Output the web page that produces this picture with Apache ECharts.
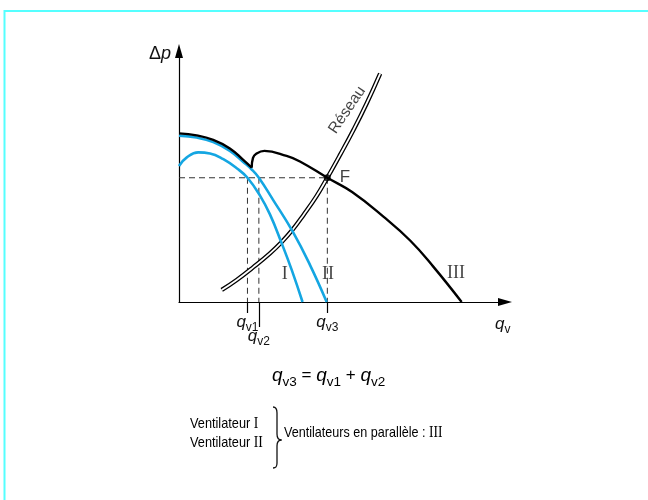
<!DOCTYPE html>
<html>
<head>
<meta charset="utf-8">
<script src="https://cdn.jsdelivr.net/npm/echarts@6/dist/echarts.min.js"></script>
<style>
  html, body { margin: 0; padding: 0; background: #fff; }
  #chart { width: 648px; height: 500px; }
</style>
</head>
<body>
<div id="chart"></div>
<script>
// Fan characteristics Δp(q_v) in arbitrary units (q_v 0..100, Δp 0..100)
const fanI = [[0, 54.2], [2.4, 57.6], [5.9, 59.6], [9.5, 59.2], [13.6, 56.9], [17.7, 53.3],
  [21, 49.5], [24.85, 42.4], [27.9, 34.9], [31.5, 23.4], [34.6, 12.7], [37.9, 0]];
const fanII = [[0, 66.3], [5.4, 65.5], [10.5, 63.7], [15.6, 60.2], [19.7, 55.8], [22.3, 52.8],
  [24.5, 49.5], [28.9, 40.6], [34.9, 28.0], [40.2, 14.7], [45.3, 0]];
// Parallel operation (III): branch where only fan II delivers, then the combined branch
const parallelSingle = [[0, 67.2], [5.4, 66.4], [10.5, 64.6], [15.6, 61.2], [19.7, 56.6], [22.3, 53.5]];
const parallelCombined = [[22.3, 53.5], [22.7, 57.4], [23.6, 59.0], [26.2, 60.2], [33.0, 58.2],
  [37.1, 56.0], [45.5, 49.5], [53.1, 43.8], [62.7, 34.0], [70.9, 24.5], [78.0, 14.1], [86.7, 0]];
// System resistance curve ("Réseau")
const network = [[13.1, 4.8], [17.7, 8.8], [22.8, 13.9], [27.9, 19.4], [31.5, 23.9], [34.9, 28.9],
  [38.1, 34.5], [42.2, 42.2], [45.5, 49.5], [49.4, 58.6], [53.5, 68.5], [57.6, 79.2], [61.7, 91.0]];
// Operating point F and flow rates
const qv1 = 21, qv2 = 24.5, qv3 = 45.5, dpF = 49.5;
const curveLabels = [
  { name: 'I', value: [32.4, 11.2] },
  { name: 'II', value: [45.7, 11.2] },
  { name: 'III', value: [85.0, 11.6] }
];
const networkLabel = [{ name: 'Réseau', value: [51.6, 76.5] }];

const SANS = "'Liberation Sans', Arial, sans-serif";
const SERIF = "'Liberation Serif', 'Times New Roman', serif";
const BLUE = '#14a6e2';
const INK = '#111';
const DASH = { color: '#333', width: 1, type: [6, 4] };

const qRich = {
  q: { fontFamily: SANS, fontStyle: 'italic', fontSize: 17, lineHeight: 18, verticalAlign: 'top', color: INK },
  s: { fontFamily: SANS, fontSize: 12, lineHeight: 12, verticalAlign: 'top', padding: [8, 0, 0, 0], color: INK },
  t: { fontFamily: SANS, fontSize: 15, lineHeight: 18, verticalAlign: 'top', padding: [1, 0, 0, 0], color: INK }
};
const formulaRich = {
  q: { fontFamily: SANS, fontStyle: 'italic', fontSize: 19, lineHeight: 20, verticalAlign: 'top', color: INK },
  s: { fontFamily: SANS, fontSize: 13.5, lineHeight: 13, verticalAlign: 'top', padding: [9, 0, 0, 0], color: INK },
  t: { fontFamily: SANS, fontSize: 17, lineHeight: 20, verticalAlign: 'top', padding: [1, 0, 0, 0], color: INK }
};
const textRich = {
  a: { fontFamily: SANS, fontSize: 15, lineHeight: 19, color: INK },
  b: { fontFamily: SERIF, fontSize: 16, lineHeight: 19, color: INK }
};
const subLabel = v => v === qv1 ? '{q|q}{s|v1}' : v === qv2 ? '{q|q}{s|v2}' : '{q|q}{s|v3}';

function dashed(data) {
  return { type: 'line', data, symbol: 'none', silent: true, lineStyle: DASH, z: 1 };
}
function curve(data, color, width, z) {
  return { type: 'line', data, smooth: 0.45, symbol: 'none', silent: true, lineStyle: { color, width }, z };
}

// Brace "}" built from lines and cubic curves
const brace = [
  { type: 'bezierCurve', shape: { x1: 273, y1: 407, cpx1: 276, cpy1: 407, cpx2: 277, cpy2: 409, x2: 277, y2: 413 } },
  { type: 'line', shape: { x1: 277, y1: 413, x2: 277, y2: 434 } },
  { type: 'bezierCurve', shape: { x1: 277, y1: 434, cpx1: 277, cpy1: 438, cpx2: 278, cpy2: 440, x2: 281.5, y2: 440 } },
  { type: 'bezierCurve', shape: { x1: 281.5, y1: 440, cpx1: 278, cpy1: 440, cpx2: 277, cpy2: 442, x2: 277, y2: 446 } },
  { type: 'line', shape: { x1: 277, y1: 446, x2: 277, y2: 463 } },
  { type: 'bezierCurve', shape: { x1: 277, y1: 463, cpx1: 277, cpy1: 467, cpx2: 276, cpy2: 468, x2: 273, y2: 468 } }
].map(e => Object.assign(e, { silent: true, style: { fill: 'none', stroke: INK, lineWidth: 1.3 } }));

const chart = echarts.init(document.getElementById('chart'), null, { renderer: 'canvas' });
chart.setOption({
  animation: false,
  backgroundColor: '#fff',
  grid: { left: 179, right: 143, top: 51, bottom: 198 },
  xAxis: [{
    type: 'value', min: 0, max: 100, position: 'bottom',
    axisLine: { show: true, onZero: false, lineStyle: { color: '#000', width: 1.2 }, symbol: ['none', 'triangle'], symbolSize: [8, 14] },
    splitLine: { show: false },
    axisTick: { show: true, customValues: [qv1, qv3], length: 11, lineStyle: { color: '#000', width: 1.2 } },
    axisLabel: { show: true, customValues: [qv1, qv3], margin: 12, formatter: subLabel, rich: qRich },
    name: '{q|q}{s|v}', nameLocation: 'end', nameGap: -10,
    nameTextStyle: { align: 'left', verticalAlign: 'top', padding: [14, 0, 0, 0], rich: qRich }
  }, {
    type: 'value', min: 0, max: 100, position: 'bottom',
    axisLine: { show: false },
    splitLine: { show: false },
    axisTick: { show: true, customValues: [qv2], length: 25, lineStyle: { color: '#000', width: 1.2 } },
    axisLabel: { show: true, customValues: [qv2], margin: 26, formatter: subLabel, rich: qRich }
  }],
  yAxis: {
    type: 'value', min: 0, max: 100,
    axisLine: { show: true, onZero: false, lineStyle: { color: '#000', width: 1.2 }, symbol: ['none', 'triangle'], symbolSize: [8, 14] },
    splitLine: { show: false }, axisTick: { show: false }, axisLabel: { show: false },
    name: '{d|Δ}{p|p}', nameLocation: 'end', nameGap: -3,
    nameTextStyle: {
      align: 'right', verticalAlign: 'middle', padding: [0, 8, 0, 0],
      rich: {
        d: { fontFamily: SANS, fontSize: 18, color: INK },
        p: { fontFamily: SANS, fontSize: 18, fontStyle: 'italic', color: INK }
      }
    }
  },
  series: [
    dashed([[0, dpF], [qv3, dpF]]),
    dashed([[qv1, dpF], [qv1, 0]]),
    dashed([[qv2, dpF], [qv2, 0]]),
    dashed([[qv3, dpF], [qv3, 0]]),
    curve(network, '#000', 4.4, 2),
    curve(network, '#fff', 1.8, 2),
    curve(fanI, BLUE, 2.6, 3),
    curve(fanII, BLUE, 2.6, 3),
    curve(parallelSingle, '#000', 2.4, 4),
    curve(parallelCombined, '#000', 2.4, 4),
    {
      type: 'scatter', data: [[qv3, dpF]], symbol: 'circle', symbolSize: 7, silent: true, z: 5,
      itemStyle: { color: '#000' },
      label: { show: true, formatter: 'F', position: 'right', distance: 9, fontFamily: SANS, fontSize: 17, color: INK }
    },
    {
      type: 'scatter', data: curveLabels, symbolSize: 0, silent: true, z: 5,
      label: { show: true, formatter: '{b}', position: 'inside', fontFamily: SERIF, fontSize: 18, color: INK }
    },
    {
      type: 'scatter', data: networkLabel, symbolSize: 0, silent: true, z: 5,
      label: { show: true, formatter: '{b}', position: 'inside', rotate: 56, fontFamily: SANS, fontSize: 15.5, color: INK }
    }
  ],
  graphic: [
    { type: 'rect', shape: { x: 4.5, y: 11, width: 1000, height: 1000 }, style: { fill: 'none', stroke: '#55ffff', lineWidth: 2 }, silent: true },
    {
      type: 'text', x: 272, y: 366, silent: true,
      style: { text: '{q|q}{s|v3}{t| = }{q|q}{s|v1}{t| + }{q|q}{s|v2}', rich: formulaRich, verticalAlign: 'top', align: 'left' }
    },
    {
      type: 'text', x: 190, y: 414, scaleX: 0.85, silent: true,
      style: { text: '{a|Ventilateur }{b|I}\n{a|Ventilateur }{b|II}', verticalAlign: 'top', align: 'left', rich: textRich }
    },
    {
      type: 'text', x: 284, y: 423, scaleX: 0.84, silent: true,
      style: { text: '{a|Ventilateurs en parallèle : }{b|III}', verticalAlign: 'top', align: 'left', rich: textRich }
    }
  ].concat(brace)
});
</script>
</body>
</html>
